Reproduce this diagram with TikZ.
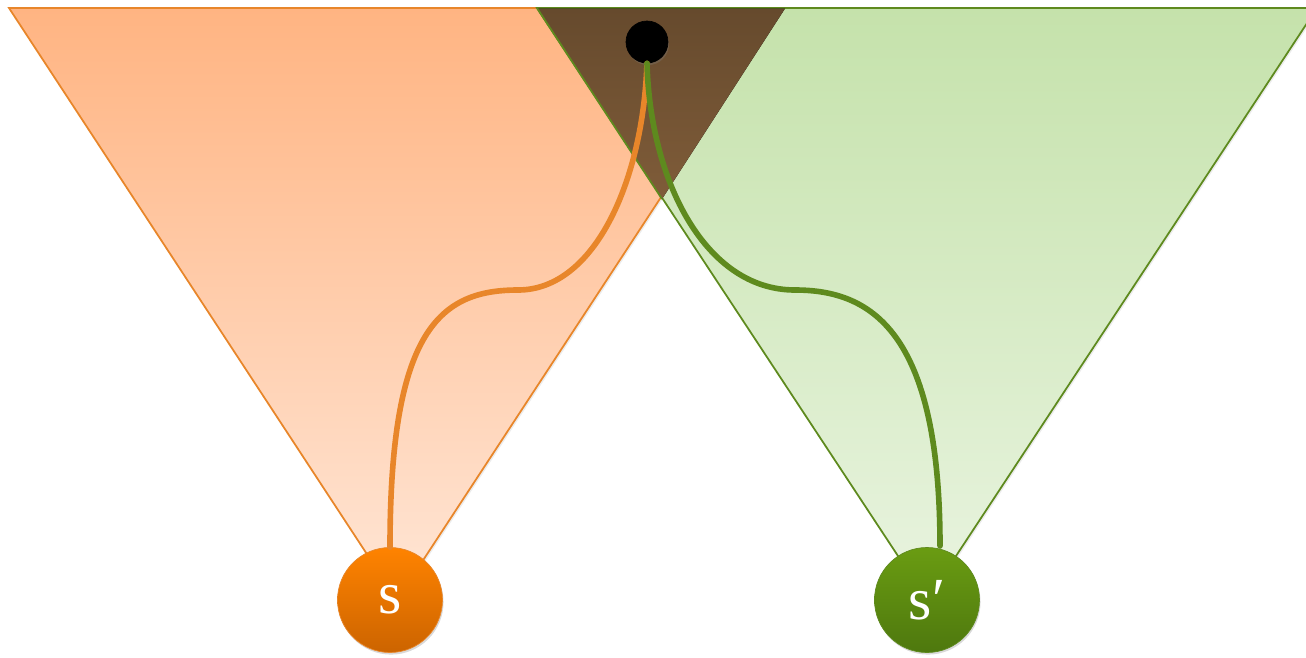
\documentclass[tikz,border=0pt]{standalone}
\usepackage{fontspec}
\usepackage{tikz}
\usetikzlibrary{shadows}
\newfontfamily\labelfont{Liberation Serif}
\definecolor{ora}{HTML}{E8862A}
\definecolor{oratop}{HTML}{FFB482}
\definecolor{orabot}{HTML}{FFE6D6}
\definecolor{oradisc}{HTML}{FF8300}
\definecolor{oradiscb}{HTML}{CC6400}
\definecolor{grn}{HTML}{5E8A1E}
\definecolor{grntop}{HTML}{C5E2AB}
\definecolor{grnbot}{HTML}{E9F4E0}
\definecolor{grndisc}{HTML}{6A9C12}
\definecolor{grndiscb}{HTML}{4E780E}
\definecolor{brntop}{HTML}{664A2D}
\definecolor{brnbot}{HTML}{7F5C39}
\tikzstyle{stt}=[shape=circle, draw, minimum size=2.1cm, inner sep=0pt, text=white,
  drop shadow={opacity=0.3,shadow xshift=0.6pt,shadow yshift=-1.2pt}]
\tikzstyle{link}=[line width=3.2pt, line cap=round]

\begin{document}
\begin{tikzpicture}[x=0.02cm,y=-0.02cm]
\useasboundingbox (0,0) rectangle (1306,657);
\clip (0,0) rectangle (1306,657);

% cones
\fill[top color=oratop, bottom color=orabot, drop shadow={opacity=0.15,shadow xshift=1pt,shadow yshift=-1pt}]
  (9,8) -- (785,8) -- (397,600) -- cycle;
\draw[ora, line width=1pt] (397,600) -- (9,8) -- (785,8) -- cycle;
\fill[top color=grntop, bottom color=grnbot, drop shadow={opacity=0.15,shadow xshift=1pt,shadow yshift=-1pt}]
  (537,8) -- (1317,8) -- (927,600) -- cycle;
\draw[grn, line width=1pt] (927,600) -- (537,8) -- (1317,8) -- cycle;
% overlap
\fill[top color=brntop, bottom color=brnbot] (538,8.5) -- (785,8.5) -- (662,199) -- cycle;
\draw[grn, line width=1pt] (537,8) -- (662,199);

\node (top) [stt, fill=black, draw=black, minimum size=0.84cm] at (647,42) {};
\node (s) [stt, draw=ora, top color=oradisc, bottom color=oradiscb] at (390,600)
  {\labelfont\fontsize{34}{38}\selectfont s};
\node (sp) [stt, draw=grn, top color=grndisc, bottom color=grndiscb] at (927,600)
  {\labelfont\fontsize{34}{38}\selectfont s′};
\coordinate (sp in) at (940,546);

\draw[link, ora] (s.north) .. controls (390,330) and (440,290) .. (518,290)
  .. controls (595,290) and (643,180) .. (top.south);
\draw[link, grn] (sp in) .. controls (940,330) and (870,290) .. (795,290)
  .. controls (705,290) and (650,180) .. (top.south);
\end{tikzpicture}
\end{document}
